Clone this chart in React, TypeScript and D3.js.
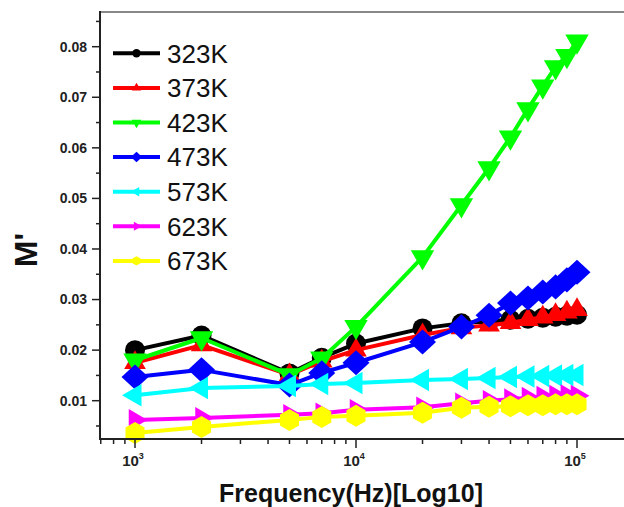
import React from 'react';
import * as d3 from 'd3';

// frequency points (Hz)
const freq = [1000, 2000, 5000, 7000, 10000, 20000, 30000, 40000, 50000, 60000, 70000, 80000, 90000, 100000];

// M' values for each temperature
const m323 = [0.0200, 0.0229, 0.0154, 0.0185, 0.0213, 0.0243, 0.0253, 0.0257, 0.0260, 0.0262, 0.0264, 0.0266, 0.0268, 0.0270];
const m373 = [0.0175, 0.0210, 0.0151, 0.0178, 0.0200, 0.0230, 0.0244, 0.0249, 0.0254, 0.0260, 0.0265, 0.0270, 0.0275, 0.0280];
const m423 = [0.0180, 0.0224, 0.0151, 0.0184, 0.0246, 0.0384, 0.0487, 0.0560, 0.0621, 0.0677, 0.0722, 0.0760, 0.0782, 0.0811];
const m473 = [0.0147, 0.0161, 0.0131, 0.0155, 0.0175, 0.0216, 0.0246, 0.0269, 0.0293, 0.0303, 0.0315, 0.0325, 0.0339, 0.0354];
const m573 = [0.0111, 0.0125, 0.0129, 0.0133, 0.0135, 0.0141, 0.0143, 0.0145, 0.0147, 0.0148, 0.0149, 0.0150, 0.0151, 0.0151];
const m623 = [0.0062, 0.0066, 0.0072, 0.0075, 0.0082, 0.0087, 0.0095, 0.0100, 0.0103, 0.0106, 0.0108, 0.0110, 0.0111, 0.0110];
const m673 = [0.0036, 0.0048, 0.0062, 0.0068, 0.0070, 0.0076, 0.0086, 0.0088, 0.0089, 0.0091, 0.0091, 0.0093, 0.0093, 0.0093];

const labels = ['323K', '373K', '423K', '473K', '573K', '623K', '673K'];
const colors = ['#000000', '#ff0000', '#00ff00', '#0000ff', '#00ffff', '#ff00ff', '#ffff00'];
const shapes = ['circle', 'up', 'down', 'diamond', 'left', 'right', 'hexagon'];
const values = [m323, m373, m423, m473, m573, m623, m673];

const yTicks = [0.01, 0.02, 0.03, 0.04, 0.05, 0.06, 0.07, 0.08];

const W = 624;
const H = 507;
const left = 100;
const top = 12;
const bottom = 439;

const x = d3.scaleLog().domain([1000, 100000]).range([135, 577]);
const y = d3.scaleLinear().domain([0.01, 0.08]).range([400.7, 46.7]);

// polygon path helper
function poly(n: number, r: number, rot: number, sx = 1, sy = 1) {
  const pts: [number, number][] = d3.range(n).map(k => {
    const a = rot + (k * 2 * Math.PI) / n;
    return [Math.cos(a) * r * sx, Math.sin(a) * r * sy];
  });
  return d3.line()(pts) + 'Z';
}

function markerPath(shape: string, s: number) {
  switch (shape) {
    case 'circle':
      return d3.symbol(d3.symbolCircle, Math.PI * 10 * 10 * s * s)()!;
    case 'up':
      return poly(3, 12.5 * s, -Math.PI / 2);
    case 'down':
      return poly(3, 13.5 * s, Math.PI / 2);
    case 'diamond':
      return poly(4, 13.5 * s, 0, 1, 0.93);
    case 'left':
      return poly(3, 13 * s, Math.PI);
    case 'right':
      return poly(3, 12.5 * s, 0);
    default:
      return poly(6, 11 * s, Math.PI / 2);
  }
}

export default function App() {
  const line = d3.line<number>()
    .x((_, i) => x(freq[i]))
    .y(d => y(d));

  const xAll = d3.scaleLog().domain([x.invert(left), x.invert(W)]).ticks();
  const isMajor = (v: number) => Math.abs(Math.log10(v) - Math.round(Math.log10(v))) < 1e-9;
  const yMinor = yTicks.map(v => v - 0.005).concat([0.085]);
  const font = 'Arial, "Liberation Sans", sans-serif';

  return (
    <svg width={W} height={H} style={{ position: 'fixed', left: 0, top: 0, background: '#fff' }}>
      {/* series */}
      {values.map((vals, si) => (
        <g key={labels[si]}>
          <path d={line(vals)!} fill="none" stroke={colors[si]} strokeWidth={4} strokeLinejoin="round" />
          {vals.map((v, i) => (
            <path key={i} d={markerPath(shapes[si], 1)} fill={colors[si]}
                  transform={`translate(${x(freq[i])},${y(v)})`} />
          ))}
        </g>
      ))}

      {/* frame */}
      <line x1={left} x2={W} y1={top} y2={top} stroke="#888" strokeWidth={2} />
      <line x1={left} x2={left} y1={top - 1} y2={bottom + 1} stroke="#222" strokeWidth={2} />
      <line x1={left - 1} x2={W} y1={bottom} y2={bottom} stroke="#222" strokeWidth={2} />

      {/* y ticks */}
      {yTicks.map(t => (
        <g key={t}>
          <line x1={left - 8} x2={left} y1={y(t)} y2={y(t)} stroke="#222" strokeWidth={1.5} />
          <text x={87} y={y(t)} dy="0.35em" textAnchor="end" fontFamily={font} fontWeight="bold"
                fontSize={14} fill="#222">{d3.format('.2f')(t)}</text>
        </g>
      ))}
      {yMinor.map(t => (
        <line key={t} x1={left - 4} x2={left} y1={y(t)} y2={y(t)} stroke="#222" strokeWidth={1.5} />
      ))}

      {/* x ticks */}
      {xAll.map(t => (
        <line key={t} x1={x(t)} x2={x(t)} y1={bottom} y2={bottom + (isMajor(t) ? 9 : 5)}
              stroke="#222" strokeWidth={1.5} />
      ))}
      {xAll.filter(isMajor).map(t => (
        <text key={t} x={x(t) - 2} y={466} textAnchor="middle" fontFamily={font} fontWeight="bold"
              fontSize={15} fill="#222">
          10<tspan dy={-7} fontSize={9}>{Math.round(Math.log10(t))}</tspan>
        </text>
      ))}

      {/* axis titles */}
      <text x={351} y={502} textAnchor="middle" fontFamily={font} fontWeight="bold" fontSize={25}
            fill="#111">Frequency(Hz)[Log10]</text>
      <text transform="translate(37,250) rotate(-90)" textAnchor="middle" fontFamily={font}
            fontWeight="bold" fontSize={32} fill="#111">M'</text>

      {/* legend */}
      {labels.map((lab, i) => (
        <g key={lab} transform={`translate(113,${53.3 + i * 34.6})`}>
          <line x1={0} x2={47} y1={0} y2={0} stroke={colors[i]} strokeWidth={4} />
          <path d={markerPath(shapes[i], 0.42)} fill={colors[i]} transform="translate(23.5,0)" />
          <text x={54} y={0} dy="0.36em" fontFamily={font} fontSize={26} fill="#111">{lab}</text>
        </g>
      ))}
    </svg>
  );
}
